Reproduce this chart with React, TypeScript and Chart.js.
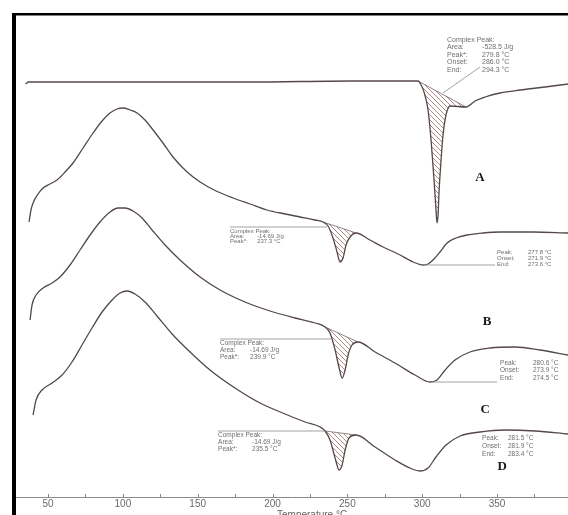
import React, { useEffect, useRef } from "react";
import { Chart, registerables } from "chart.js";

Chart.register(...registerables);

// DSC thermograms: [temperature °C, heat flow (arbitrary units, offset per trace)]
const curveA: [number, number][] = [
  [35.0, 413], [37.0, 415], [58.0, 415], [118.2, 415], [185.0, 415], [251.8, 416],
  [285.2, 416], [297.2, 416], [299.3, 412], [301.2, 405], [303.9, 387], [305.9, 357],
  [307.9, 317], [309.2, 287], [309.9, 274], [310.6, 282], [311.2, 304], [312.6, 337],
  [313.9, 362], [315.9, 382], [318.6, 391], [329.3, 390], [335.3, 396], [342.0, 400],
  [352.0, 404], [365.4, 407], [382.1, 410], [397.4, 413],
];
const curveB: [number, number][] = [
  [37.3, 275], [38.6, 287], [40.0, 294], [43.3, 303], [46.7, 309], [51.3, 313],
  [56.0, 317], [61.4, 325], [66.7, 334], [73.4, 349], [80.1, 364], [86.1, 376],
  [91.4, 384], [96.1, 388], [100.1, 389], [104.8, 387], [109.5, 384], [114.8, 377],
  [120.2, 367], [126.8, 354], [133.5, 340], [142.2, 326], [151.6, 315], [162.3, 306],
  [173.6, 299], [185.0, 293], [196.3, 287], [208.4, 283], [218.4, 280], [228.4, 277],
  [233.7, 275], [237.1, 271], [240.4, 259], [243.1, 245], [245.1, 235], [247.1, 239],
  [249.1, 252], [251.8, 260], [255.8, 264], [265.1, 257], [273.8, 250], [283.9, 243],
  [293.9, 235], [300.6, 232], [303.9, 233], [307.2, 237], [311.9, 245], [316.6, 254],
  [322.6, 259], [329.9, 262], [340.6, 264], [352.0, 265], [374.0, 265], [397.4, 264],
];
const curveC: [number, number][] = [
  [38.0, 177], [39.3, 192], [42.0, 202], [46.7, 209], [52.7, 214], [58.0, 220],
  [64.7, 232], [71.4, 247], [78.1, 262], [84.7, 275], [91.4, 285], [96.8, 289],
  [101.4, 289], [106.8, 286], [112.8, 279], [119.5, 267], [128.2, 252], [138.2, 237],
  [151.6, 220], [164.9, 207], [181.6, 195], [198.3, 186], [215.0, 179], [228.4, 174],
  [235.1, 170], [238.4, 164], [241.8, 147], [244.5, 129], [246.5, 119], [248.5, 127],
  [250.5, 142], [253.1, 152], [257.1, 155], [268.5, 145], [281.8, 134], [295.2, 122],
  [305.2, 115], [309.9, 117], [315.3, 127], [321.9, 137], [331.9, 145], [345.3, 149],
  [362.0, 150], [378.7, 147], [397.4, 142],
];
const curveD: [number, number][] = [
  [40.0, 82], [42.0, 97], [46.0, 107], [52.7, 114], [59.4, 122], [66.0, 135],
  [72.7, 152], [79.4, 169], [86.1, 185], [92.8, 197], [98.1, 204], [102.8, 206],
  [108.1, 203], [114.8, 195], [122.8, 181], [132.9, 163], [144.9, 145], [158.2, 127],
  [174.9, 109], [191.6, 94], [208.4, 83], [221.7, 75], [231.8, 70], [235.1, 66],
  [238.4, 57], [241.8, 39], [244.5, 27], [246.5, 32], [248.5, 47], [251.1, 59],
  [255.8, 62], [268.5, 50], [281.8, 37], [293.2, 28], [298.6, 26], [303.9, 29],
  [309.2, 40], [315.9, 52], [325.3, 61], [338.6, 65], [355.4, 67], [375.4, 66],
  [397.4, 63],
];

const seriesNames = ["A", "B", "C", "D"];
const xTickValues = [50, 100, 150, 200, 250, 300, 350];
const minorTickValues = [50, 75, 100, 125, 150, 175, 200, 225, 250, 275, 300, 325, 350, 375];

// integrated peak ranges [dataset, onset T, end T]
const hatchRanges: [number, number, number][] = [
  [0, 297.2, 329.3],
  [1, 233.7, 255.8],
  [2, 235.1, 257.1],
  [3, 235.1, 255.8],
];

type Note = { x: number; vx: number; y: number; step: number; size: number; rows: [string, string][] };
const notes: Note[] = [
  { x: 316.6, vx: 340.0, y: 457, step: 7.5, size: 7, rows: [["Complex Peak:", ""], ["Area:", "-528.5 J/g"], ["Peak*:", "279.8 °C"], ["Onset:", "286.0 °C"], ["End:", "294.3 °C"]] },
  { x: 171.6, vx: 189.7, y: 266, step: 5, size: 6, rows: [["Complex Peak:", ""], ["Area:", "-14.69 J/g"], ["Peak*:", "237.3 °C"]] },
  { x: 350.0, vx: 370.7, y: 245, step: 6, size: 6, rows: [["Peak:", "277.8 °C"], ["Onset:", "271.9 °C"], ["End:", "273.6 °C"]] },
  { x: 164.9, vx: 185.0, y: 154, step: 7, size: 6.5, rows: [["Complex Peak:", ""], ["Area:", "-14.69 J/g"], ["Peak*:", "239.9 °C"]] },
  { x: 352.0, vx: 374.0, y: 134, step: 7.5, size: 6.5, rows: [["Peak:", "280.6 °C"], ["Onset:", "273.9 °C"], ["End:", "274.5 °C"]] },
  { x: 163.6, vx: 186.3, y: 62, step: 7, size: 6.5, rows: [["Complex Peak:", ""], ["Area:", "-14.69 J/g"], ["Peak*:", "235.5 °C"]] },
  { x: 340.0, vx: 357.3, y: 59, step: 8, size: 6.5, rows: [["Peak:", "281.5 °C"], ["Onset:", "281.9 °C"], ["End:", "283.4 °C"]] },
];
const leaders: [number, number, number, number][] = [
  [338.6, 430, 313.9, 404],
  [171.6, 270, 236.4, 270],
  [300.6, 232, 348.7, 232],
  [164.9, 158, 239.1, 158],
  [305.2, 115, 350.0, 115],
  [163.6, 66, 235.7, 66],
];
const seriesLabelPos: [number, number][] = [
  [338.6, 319], [343.3, 175], [342.0, 87], [353.4, 30],
];

const CANVAS_W = 568;
const CANVAS_H = 530;
const AXIS_Y = 497;

function makeHatch(ctx: CanvasRenderingContext2D): CanvasPattern | string {
  const c = document.createElement("canvas");
  c.width = 5;
  c.height = 5;
  const g = c.getContext("2d");
  if (!g) return "rgba(150,100,100,0.4)";
  g.strokeStyle = "rgba(140,80,80,0.85)";
  g.lineWidth = 0.8;
  g.beginPath();
  g.moveTo(0, 0); g.lineTo(5, 5);
  g.moveTo(-1, 4); g.lineTo(1, 6);
  g.moveTo(4, -1); g.lineTo(6, 1);
  g.stroke();
  return ctx.createPattern(c, "repeat") || "rgba(150,100,100,0.4)";
}

const overlay = {
  id: "overlay",
  beforeDatasetsDraw(chart: any) {
    const { ctx } = chart;
    const pattern = makeHatch(ctx);
    hatchRanges.forEach(([ds, from, to]) => {
      const meta = chart.getDatasetMeta(ds);
      const data = chart.data.datasets[ds].data as { x: number; y: number }[];
      const pts = meta.data.filter((_: any, i: number) => data[i].x >= from - 1e-6 && data[i].x <= to + 1e-6);
      if (pts.length < 2) return;
      ctx.save();
      ctx.beginPath();
      ctx.moveTo(pts[0].x, pts[0].y);
      pts.forEach((p: any) => ctx.lineTo(p.x, p.y));
      ctx.closePath();
      ctx.fillStyle = pattern;
      ctx.fill();
      ctx.beginPath();
      ctx.moveTo(pts[0].x, pts[0].y);
      ctx.lineTo(pts[pts.length - 1].x, pts[pts.length - 1].y);
      ctx.strokeStyle = "#7a6a6a";
      ctx.lineWidth = 0.8;
      ctx.stroke();
      ctx.restore();
    });
  },
  afterDraw(chart: any) {
    const { ctx } = chart;
    const xs = chart.scales.x;
    const ys = chart.scales.y;
    ctx.save();
    // frame
    ctx.fillStyle = "#000";
    ctx.fillRect(12, 13, 4, CANVAS_H - 13);
    ctx.fillRect(12, 13, CANVAS_W - 12, 2.5);
    // minor ticks pointing up
    ctx.strokeStyle = "#888";
    ctx.lineWidth = 1;
    minorTickValues.forEach((t) => {
      const px = Math.round(xs.getPixelForValue(t)) + 0.5;
      ctx.beginPath();
      ctx.moveTo(px, AXIS_Y - 3);
      ctx.lineTo(px, AXIS_Y);
      ctx.stroke();
    });
    // leaders
    ctx.strokeStyle = "#8a8a8a";
    ctx.lineWidth = 0.8;
    leaders.forEach(([x1, y1, x2, y2]) => {
      ctx.beginPath();
      ctx.moveTo(xs.getPixelForValue(x1), ys.getPixelForValue(y1));
      ctx.lineTo(xs.getPixelForValue(x2), ys.getPixelForValue(y2));
      ctx.stroke();
    });
    // notes
    ctx.fillStyle = "#6e6e6e";
    ctx.textBaseline = "middle";
    ctx.textAlign = "left";
    notes.forEach((n) => {
      ctx.font = `${n.size}px "Liberation Sans", Arial, sans-serif`;
      n.rows.forEach(([lab, val], i) => {
        const py = ys.getPixelForValue(n.y - i * n.step);
        ctx.fillText(lab, xs.getPixelForValue(n.x), py);
        if (val) ctx.fillText(val, xs.getPixelForValue(n.vx), py);
      });
    });
    // series labels
    ctx.fillStyle = "#1a1a1a";
    ctx.textAlign = "center";
    ctx.font = 'bold 13px "Liberation Serif", "DejaVu Serif", serif';
    seriesLabelPos.forEach(([t, v], i) => {
      ctx.fillText(seriesNames[i], xs.getPixelForValue(t), ys.getPixelForValue(v));
    });
    // axis title
    ctx.fillStyle = "#666";
    ctx.font = '10px "Liberation Sans", Arial, sans-serif';
    ctx.textBaseline = "top";
    ctx.fillText("Temperature °C", xs.getPixelForValue(226.4), 510);
    ctx.restore();
  },
};

export default function App() {
  const ref = useRef<HTMLCanvasElement | null>(null);
  useEffect(() => {
    if (!ref.current) return;
    const curves = [curveA, curveB, curveC, curveD];
    const chart = new Chart(ref.current, {
      type: "line",
      data: {
        datasets: curves.map((c, i) => ({
          label: seriesNames[i],
          data: c.map(([x, y]) => ({ x, y })),
          borderColor: "#554848",
          borderWidth: 1.3,
          pointRadius: 0,
          fill: false,
          cubicInterpolationMode: "monotone" as const,
        })),
      },
      options: {
        animation: false,
        responsive: false,
        devicePixelRatio: 1,
        layout: { padding: { left: 16, right: 0, top: 16, bottom: 0 } },
        plugins: { legend: { display: false }, tooltip: { enabled: false } },
        scales: {
          x: {
            type: "linear",
            min: 28.6,
            max: 397.4,
            afterBuildTicks: (scale: any) => {
              scale.ticks = xTickValues.map((v) => ({ value: v }));
            },
            afterFit: (scale: any) => {
              scale.height = CANVAS_H - AXIS_Y;
            },
            grid: { display: true, drawOnChartArea: false, drawTicks: false },
            border: { display: true, color: "#8a8a8a", width: 1 },
            ticks: {
              color: "#6a6a6a",
              padding: 1,
              maxRotation: 0,
              autoSkip: false,
              font: { family: '"Liberation Sans", Arial, sans-serif', size: 10 },
            },
          },
          y: { type: "linear", display: false, min: 0, max: 481 },
        },
      },
      plugins: [overlay],
    });
    return () => chart.destroy();
  }, []);
  return (
    <div style={{ position: "absolute", left: 0, top: 0, width: CANVAS_W, height: 515, overflow: "hidden", background: "#fff" }}>
      <canvas ref={ref} width={CANVAS_W} height={CANVAS_H} style={{ display: "block" }} />
    </div>
  );
}
